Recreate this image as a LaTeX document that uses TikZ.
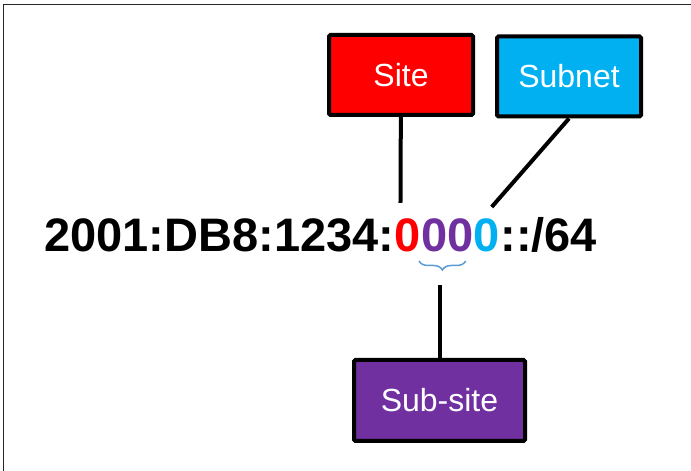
\documentclass[tikz,border=0pt]{standalone}
\usepackage{fontspec}
\usepackage{tikz}
\setmainfont{Liberation Sans}
\usetikzlibrary{positioning}
\usetikzlibrary{decorations.pathreplacing}
\definecolor{mred}{rgb}{1, 0, 0}
\definecolor{mpurple}{RGB}{112, 48, 160}
\definecolor{mcyan}{RGB}{0, 176, 240}
\definecolor{mbrace}{RGB}{91, 155, 213}
\tikzset{tag/.style = {draw=black, line width=4pt, rounded corners=1.5pt, text=white,
                       minimum width=144pt, minimum height=80pt,
                       font=\fontsize{32}{36}\selectfont},
         part/.style = {inner sep=0pt, anchor=base west,
                        font=\fontsize{47}{52}\selectfont\bfseries},
         link/.style = {line width=4pt}}

\begin{document}
\begin{tikzpicture}[x=1pt, y=1pt]
    \useasboundingbox (0, 0) rectangle (691, 471);
    \draw [line width=1.8pt, black!85] (3.5, 0) -- (3.5, 466.5) -- (691, 466.5);

    % the address, piece by piece
    \node [part] (pre) at (44, 219) {2001:DB8:1234:};
    \node [part, mred] (site0) at (pre.base east) {0};
    \node [part, mpurple] (sub00) at (site0.base east) {00};
    \node [part, mcyan] (subnet0) at (sub00.base east) {0};
    \node [part] (post) at (subnet0.base east) {::/64};

    \node [tag, fill=mred] (site) at (401, 396) {Site};
    \node [tag, fill=mcyan] (subnet) at (569, 394.5) {Subnet};
    \node [tag, fill=mpurple, minimum width=171pt, minimum height=81pt] (subsite) at (439.5, 70.5) {Sub-site};

    \coordinate (sitetip) at ([xshift=6pt, yshift=16pt]site0.north west);
    \coordinate (subnettip) at ([xshift=18pt, yshift=12pt]subnet0.north west);
    \coordinate (subtip) at ([yshift=-33pt]sub00.base);

    \draw [link] (site) -- (sitetip);
    \draw [link] (subnet.south) -- (subnettip);
    \draw [mbrace, line width=1.5pt, decorate, decoration={brace, mirror, amplitude=9pt}]
        ([xshift=-2pt, yshift=-9pt]sub00.base west) -- ([xshift=-8pt, yshift=-9pt]sub00.base east);
    \draw [link] (subsite) -- (subsite |- subtip);
\end{tikzpicture}
\end{document}
